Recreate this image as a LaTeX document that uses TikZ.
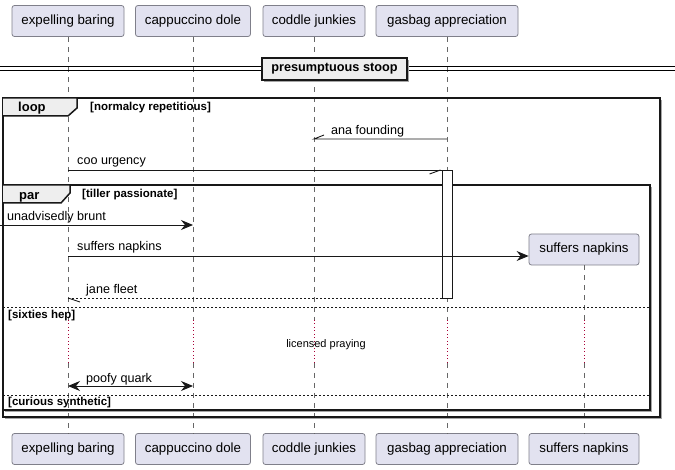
\documentclass[tikz,border=0pt]{standalone}
\usepackage{fontspec}
\setmainfont{Liberation Sans}
\usetikzlibrary{arrows.meta,shadows}
\definecolor{partfill}{HTML}{E2E2F0}
\definecolor{partline}{HTML}{7F7F8A}
\definecolor{tabfill}{HTML}{EEEEEE}
\definecolor{pausecol}{HTML}{A80036}
\definecolor{ink}{HTML}{181818}

\begin{document}
\begin{tikzpicture}[x=1pt,y=-1pt,
  part/.style={draw=partline,fill=partfill,rounded corners=2.5pt,line width=0.8pt,
    minimum height=31pt,minimum width=#1,inner sep=0pt,font=\fontsize{13.3}{15}\selectfont},
  life/.style={draw=black!60,line width=0.8pt,dash pattern=on 5pt off 5pt},
  pause/.style={draw=pausecol,line width=0.8pt,dash pattern=on 1pt off 2.5pt},
  msg/.style={draw=ink,line width=0.9pt},
  reply/.style={msg,dash pattern=on 2pt off 2pt},
  head/.tip={Stealth[length=12pt,width=10pt,inset=4pt]},
  tip/.style={-head},
  lbl/.style={anchor=base west,inner sep=0pt,font=\fontsize{12.6}{14}\selectfont},
  cond/.style={anchor=base west,inner sep=0pt,font=\fontsize{11.5}{13}\selectfont\bfseries},
  tabtext/.style={anchor=base west,inner sep=0pt,font=\fontsize{13}{15}\selectfont\bfseries},
  frame/.style={draw=ink,line width=1.5pt},
  else/.style={draw=ink,line width=0.9pt,dash pattern=on 2pt off 2pt}]
\useasboundingbox (0,0) rectangle (675,470);

% participants
\node[part=112pt] (ebTop) at (68,21) {expelling baring};
\node[part=115pt] (cdTop) at (193,21) {cappuccino dole};
\node[part=102pt] (cjTop) at (314,21) {coddle junkies};
\node[part=142pt] (gaTop) at (447,21) {gasbag appreciation};
\node[part=112pt] (ebBot) at (68,449) {expelling baring};
\node[part=115pt] (cdBot) at (193,449) {cappuccino dole};
\node[part=102pt] (cjBot) at (314,449) {coddle junkies};
\node[part=142pt] (gaBot) at (447,449) {gasbag appreciation};
\node[part=110pt] (snBot) at (584,449) {suffers napkins};

% frames, fill and shadow
\fill[black!35] (5,100) rectangle (662,419);
\fill[white] (3,98) rectangle (660,417);
\fill[black!35] (5,187) rectangle (652,412);
\fill[white] (3,185) rectangle (650,410);

% lifelines
\node[part=110pt] (snTop) at (584,249.5) {suffers napkins};
\foreach \p in {eb,cd,cj,ga,sn}{
  \draw[life] (\p Top.south) -- (\p Top.south |- 0,320);
  \draw[pause] (\p Top.south |- 0,320) -- (\p Top.south |- 0,363);
  \draw[life] (\p Top.south |- 0,363) -- (\p Bot.north);
}

% loop and par
\draw[frame] (3,98) rectangle (660,417);
\draw[frame,fill=tabfill] (3,98) -- (77,98) -- (77,108) -- (68,116) -- (3,116);
\node[tabtext] (loopTab) at (18,112) {loop};
\node[cond] (loopCond) at (90,111) {[normalcy repetitious]};
\draw[frame] (3,185) rectangle (650,410);
\draw[frame,fill=tabfill] (3,185) -- (70,185) -- (70,193) -- (61,203) -- (3,203);
\node[tabtext] (parTab) at (19,200) {par};
\node[cond] (parCond) at (82,197.5) {[tiller passionate]};
\draw[else] (3,307) -- (650,307);
\node[cond] (hepCond) at (8,318.5) {[sixties hep]};
\draw[else] (3,395) -- (650,395);
\node[cond] (synCond) at (8,406) {[curious synthetic]};

% divider
\draw[line width=0.9pt] (0,66.5) -- (675,66.5);
\draw[line width=0.9pt] (0,70) -- (675,70);
\node[draw=ink,line width=1.5pt,fill=tabfill,minimum width=145pt,minimum height=22pt,inner sep=0pt,
  drop shadow={shadow xshift=2pt,shadow yshift=-2pt,fill=black!35,opacity=1},
  font=\fontsize{12.7}{14}\selectfont\bfseries] (stoop) at (334.5,69) {presumptuous stoop};

% activation
\node[draw=ink,line width=0.9pt,fill=white,minimum width=10pt,minimum height=128pt,inner sep=0pt] (act) at (447,234) {};

% messages
\coordinate (afFrom) at (gaTop |- 0,139);
\coordinate (afTo) at (cjTop |- 0,139);
\draw[msg] (afFrom) -- (afTo) -- ++(10,-4);
\node[lbl] (afText) at (331,134.5) {ana founding};

\coordinate (cuFrom) at (ebTop |- 0,170);
\coordinate (cuTo) at (act.west |- 0,170);
\draw[msg] (cuFrom) -- (cuTo);
\draw[msg] (cuTo) ++(-1,0) -- ++(-11,4);
\node[lbl] (cuText) at (77,165) {coo urgency};

\coordinate (ubFrom) at (0,225);
\coordinate (ubTo) at (cdTop |- 0,225);
\draw[msg,tip] (ubFrom) -- (ubTo);
\node[lbl] (ubText) at (7,220.5) {unadvisedly brunt};

\coordinate (snFrom) at (ebTop |- 0,256);
\coordinate (snTo) at (snTop.west |- 0,256);
\draw[msg,tip] (snFrom) -- (snTo);
\node[lbl] (snText) at (77,251) {suffers napkins};

\coordinate (jfFrom) at (act.west |- 0,298);
\coordinate (jfTo) at (ebTop |- 0,298);
\draw[reply] (jfFrom) -- (jfTo);
\draw[msg] (jfTo) -- ++(12,4);
\node[lbl] (jfText) at (86,294) {jane fleet};

\node[anchor=base,inner sep=0pt,font=\fontsize{11}{13}\selectfont] (lpText) at (326,347.5) {licensed praying};

\coordinate (pqFrom) at (ebTop |- 0,386);
\coordinate (pqTo) at (cdTop |- 0,386);
\draw[msg,head-head] (pqFrom) -- (pqTo);
\node[lbl] (pqText) at (86,382) {poofy quark};
\end{tikzpicture}
\end{document}
